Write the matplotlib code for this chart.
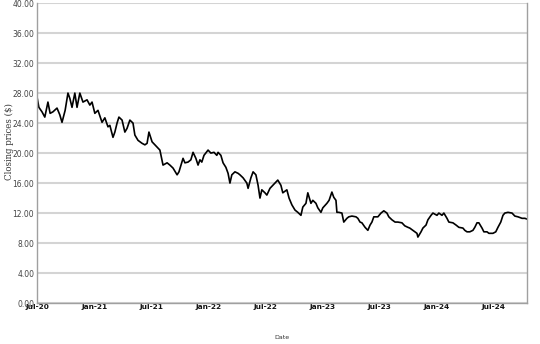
import pandas as pd
import matplotlib
matplotlib.use("Agg")
import matplotlib.pyplot as plt
import matplotlib.dates as mdates
from matplotlib.ticker import FormatStrFormatter

# Closing prices
dates = [
    "2020-07-01", "2020-07-07", "2020-07-17", "2020-07-26", "2020-08-05", "2020-08-12",
    "2020-08-21", "2020-09-03", "2020-09-12", "2020-09-19", "2020-09-29", "2020-10-08",
    "2020-10-14", "2020-10-21", "2020-10-30", "2020-11-06", "2020-11-15", "2020-11-25",
    "2020-12-08", "2020-12-17", "2020-12-24", "2021-01-02", "2021-01-12", "2021-01-25",
    "2021-02-03", "2021-02-13", "2021-02-19", "2021-03-01", "2021-03-07", "2021-03-14",
    "2021-03-20", "2021-03-30", "2021-04-08", "2021-04-15", "2021-04-24", "2021-05-04",
    "2021-05-10", "2021-05-20", "2021-06-02", "2021-06-11", "2021-06-18", "2021-06-24",
    "2021-07-04", "2021-07-13", "2021-07-29", "2021-08-08", "2021-08-21", "2021-08-30",
    "2021-09-09", "2021-09-22", "2021-09-28", "2021-10-11", "2021-10-17", "2021-10-27",
    "2021-11-05", "2021-11-12", "2021-11-21", "2021-11-28", "2021-12-04", "2021-12-10",
    "2021-12-17", "2021-12-30", "2022-01-08", "2022-01-18", "2022-01-27", "2022-01-31",
    "2022-02-09", "2022-02-16", "2022-02-25", "2022-03-04", "2022-03-10", "2022-03-16",
    "2022-03-26", "2022-04-05", "2022-04-11", "2022-04-21", "2022-05-03", "2022-05-07",
    "2022-05-16", "2022-05-23", "2022-06-01", "2022-06-08", "2022-06-14", "2022-06-20",
    "2022-06-30", "2022-07-06", "2022-07-16", "2022-07-25", "2022-08-01", "2022-08-10",
    "2022-08-20", "2022-08-26", "2022-09-08", "2022-09-15", "2022-09-24", "2022-10-04",
    "2022-10-13", "2022-10-23", "2022-10-29", "2022-11-08", "2022-11-14", "2022-11-24",
    "2022-11-30", "2022-12-10", "2022-12-16", "2022-12-26", "2023-01-01", "2023-01-14",
    "2023-01-21", "2023-01-30", "2023-02-05", "2023-02-12", "2023-02-15", "2023-02-21",
    "2023-03-03", "2023-03-09", "2023-03-19", "2023-03-25", "2023-04-04", "2023-04-17",
    "2023-04-23", "2023-04-30", "2023-05-06", "2023-05-16", "2023-05-25", "2023-06-01",
    "2023-06-07", "2023-06-13", "2023-06-26", "2023-07-06", "2023-07-15", "2023-07-25",
    "2023-07-31", "2023-08-10", "2023-08-20", "2023-08-29", "2023-09-11", "2023-09-20",
    "2023-09-30", "2023-10-06", "2023-10-16", "2023-10-29", "2023-11-01", "2023-11-11",
    "2023-11-17", "2023-11-27", "2023-12-03", "2023-12-13", "2023-12-19", "2024-01-01",
    "2024-01-07", "2024-01-17", "2024-01-23", "2024-02-02", "2024-02-08", "2024-02-21",
    "2024-03-02", "2024-03-11", "2024-03-24", "2024-03-30", "2024-04-06", "2024-04-15",
    "2024-04-25", "2024-05-01", "2024-05-08", "2024-05-14", "2024-05-24", "2024-05-30",
    "2024-06-09", "2024-06-15", "2024-06-28", "2024-07-07", "2024-07-14", "2024-07-23",
    "2024-07-30", "2024-08-05", "2024-08-15", "2024-08-28", "2024-09-06", "2024-09-16",
    "2024-09-29", "2024-10-08", "2024-10-15",
]
prices = [
    27.5, 26.1, 25.5, 24.8, 26.8, 25.3,
    25.5, 26.0, 25.1, 24.1, 25.7, 28.0,
    27.3, 26.1, 28.0, 26.1, 28.0, 26.8,
    27.1, 26.4, 26.8, 25.3, 25.7, 24.1,
    24.7, 23.5, 23.7, 22.1, 22.8, 24.0,
    24.8, 24.4, 22.8, 23.3, 24.4, 24.0,
    22.4, 21.7, 21.3, 21.1, 21.3, 22.8,
    21.5, 21.1, 20.4, 18.4, 18.7, 18.4,
    18.0, 17.1, 17.5, 19.3, 18.7, 18.8,
    19.1, 20.1, 19.3, 18.4, 19.1, 18.8,
    19.7, 20.4, 20.0, 20.1, 19.7, 20.1,
    19.7, 18.7, 18.1, 17.3, 16.0, 17.1,
    17.5, 17.3, 17.1, 16.7, 16.0, 15.3,
    16.7, 17.5, 17.1, 15.7, 14.0, 15.1,
    14.7, 14.4, 15.3, 15.7, 16.0, 16.4,
    15.7, 14.7, 15.1, 14.0, 13.1, 12.4,
    12.1, 11.7, 12.8, 13.3, 14.7, 13.3,
    13.7, 13.3, 12.7, 12.1, 12.7, 13.3,
    13.7, 14.8, 14.1, 13.7, 12.1, 12.1,
    12.0, 10.8, 11.3, 11.5, 11.6, 11.5,
    11.3, 10.8, 10.7, 10.1, 9.7, 10.4,
    10.8, 11.5, 11.5, 12.0, 12.3, 12.0,
    11.5, 11.1, 10.8, 10.8, 10.7, 10.3,
    10.1, 10.0, 9.7, 9.3, 8.8, 9.5,
    10.0, 10.4, 11.1, 11.7, 12.0, 11.7,
    12.0, 11.7, 12.0, 11.3, 10.8, 10.7,
    10.4, 10.1, 10.0, 9.7, 9.5, 9.5,
    9.7, 10.1, 10.7, 10.7, 10.0, 9.5,
    9.5, 9.3, 9.3, 9.5, 10.1, 10.8,
    11.7, 12.0, 12.1, 12.0, 11.6, 11.5,
    11.3, 11.3, 11.2,
]
tick_dates = ["2020-07-01", "2021-01-01", "2021-07-01", "2022-01-01", "2022-07-01",
              "2023-01-01", "2023-07-01", "2024-01-01", "2024-07-01"]

df = pd.DataFrame({"date": pd.to_datetime(dates), "close": prices})

fig = plt.figure(figsize=(5.4, 3.44), dpi=100)
ax = fig.add_axes([0.0685, 0.119, 0.9075, 0.872])

ax.plot(df["date"], df["close"], color="black", linewidth=1.2)

ax.set_ylim(0, 40)
ax.set_yticks(range(0, 41, 4))
ax.yaxis.set_major_formatter(FormatStrFormatter("%.2f"))
ax.set_xlim(df["date"].iloc[0], df["date"].iloc[-1])
ax.set_xticks(pd.to_datetime(tick_dates))
ax.xaxis.set_major_formatter(mdates.DateFormatter("%b-%y"))

ax.grid(axis="y", color="#d4d4d4", linewidth=1.5)
ax.set_axisbelow(True)
for s in ax.spines.values():
    s.set_color("#a0a0a0")
    s.set_linewidth(1)
ax.spines["top"].set_visible(False)

ax.tick_params(axis="both", length=0)
ax.tick_params(axis="y", labelsize=5.5, labelcolor="#444444", pad=2)
ax.tick_params(axis="x", labelsize=5.3, labelcolor="#111111", pad=1)
for lbl in ax.get_xticklabels():
    lbl.set_fontweight("bold")

# axis titles placed as in the original
fig.text(0.522, 0.02, "Date", fontsize=4.5, color="#333333", ha="center", va="center")
fig.text(0.017, 0.59, "Closing prices ($)", fontsize=6.2, family="DejaVu Serif",
         color="#333333", rotation=90, ha="center", va="center")

fig.savefig("out.png", dpi=100)
